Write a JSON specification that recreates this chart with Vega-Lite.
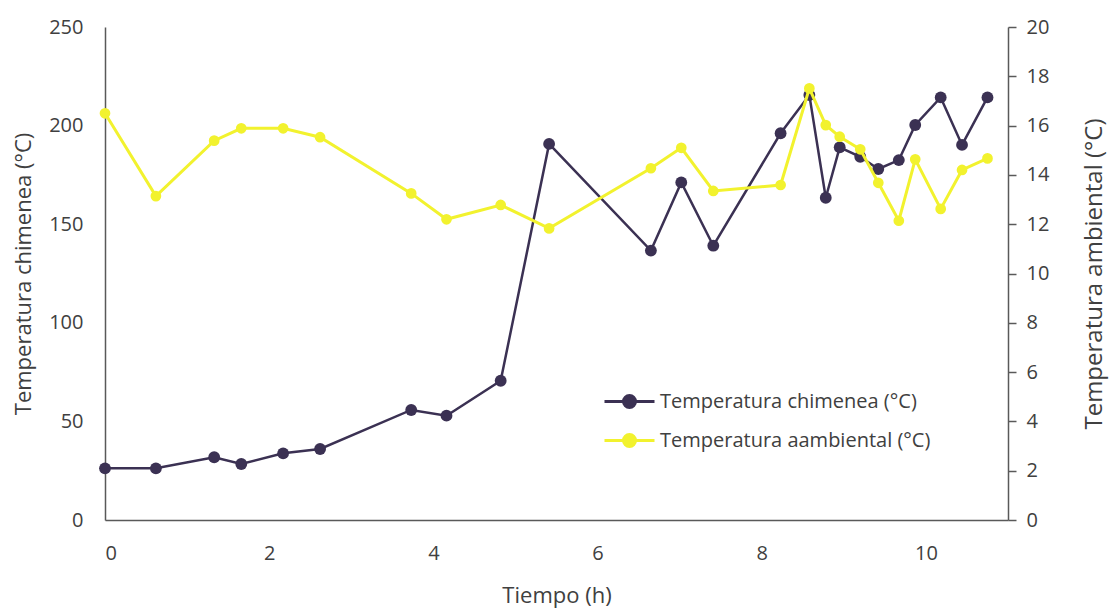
{
  "$schema": "https://vega.github.io/schema/vega-lite/v6.json",
  "width": 903,
  "height": 493,
  "autosize": {"type": "none"},
  "padding": {"left": 105, "top": 27, "right": 102, "bottom": 90},
  "background": "white",
  "config": {
    "font": "Open Sans",
    "view": {"stroke": null},
    "axis": {
      "labelColor": "#404040",
      "titleColor": "#404040",
      "labelFontSize": 20,
      "titleFontSize": 22,
      "titleFontWeight": "normal",
      "domainColor": "#595959",
      "domainWidth": 1.5,
      "tickColor": "#595959",
      "tickWidth": 1.5,
      "grid": false
    }
  },
  "data": {
    "values": [
      {"t": 0, "chim": 26.2, "amb": 16.5},
      {"t": 0.62, "chim": 26.2, "amb": 13.14},
      {"t": 1.33, "chim": 31.8, "amb": 15.39},
      {"t": 1.66, "chim": 28.4, "amb": 15.89},
      {"t": 2.17, "chim": 33.8, "amb": 15.89},
      {"t": 2.62, "chim": 36, "amb": 15.53},
      {"t": 3.73, "chim": 55.8, "amb": 13.25},
      {"t": 4.16, "chim": 52.9, "amb": 12.2},
      {"t": 4.82, "chim": 70.6, "amb": 12.78},
      {"t": 5.41, "chim": 190.7, "amb": 11.83},
      {"t": 6.65, "chim": 136.6, "amb": 14.27},
      {"t": 7.02, "chim": 171.2, "amb": 15.1},
      {"t": 7.41, "chim": 139.1, "amb": 13.35},
      {"t": 8.23, "chim": 196.1, "amb": 13.59},
      {"t": 8.58, "chim": 215.5, "amb": 17.51},
      {"t": 8.78, "chim": 163.4, "amb": 16.02},
      {"t": 8.95, "chim": 189, "amb": 15.55},
      {"t": 9.2, "chim": 184.2, "amb": 15.04},
      {"t": 9.42, "chim": 178, "amb": 13.68},
      {"t": 9.67, "chim": 182.5, "amb": 12.14},
      {"t": 9.87, "chim": 200.3, "amb": 14.63},
      {"t": 10.18, "chim": 214.3, "amb": 12.62},
      {"t": 10.44, "chim": 190.2, "amb": 14.2},
      {"t": 10.75, "chim": 214.3, "amb": 14.67}
    ]
  },
  "encoding": {
    "x": {
      "field": "t",
      "type": "quantitative",
      "scale": {"domain": [0, 11], "nice": false},
      "axis": {
        "title": "Tiempo (h)",
        "values": [0, 2, 4, 6, 8, 10],
        "ticks": false,
        "labelPadding": 23,
        "titlePadding": 22
      }
    },
    "color": {
      "type": "nominal",
      "scale": {
        "domain": ["Temperatura chimenea (°C)", "Temperatura aambiental (°C)"],
        "range": ["#3b3153", "#f2f22e"]
      },
      "legend": {
        "title": null,
        "orient": "none",
        "legendX": 508,
        "legendY": 358,
        "symbolType": "M-1.667,0H1.667M-0.4,0A0.4,0.4,0,1,0,0.4,0A0.4,0.4,0,1,0,-0.4,0Z",
        "symbolSize": 900,
        "symbolStrokeWidth": 3,
        "labelOffset": 14,
        "labelFontSize": 20,
        "labelColor": "#404040",
        "rowPadding": 10,
        "labelLimit": 400
      }
    }
  },
  "layer": [
    {
      "mark": {"type": "line", "strokeWidth": 2.5, "point": {"filled": true, "size": 140, "opacity": 1}},
      "encoding": {
        "y": {
          "field": "chim",
          "type": "quantitative",
          "scale": {"domain": [0, 250], "nice": false},
          "axis": {
            "title": "Temperatura chimenea (°C)",
            "values": [0, 50, 100, 150, 200, 250],
            "ticks": false,
            "labelPadding": 22,
            "titlePadding": 13
          }
        },
        "color": {"datum": "Temperatura chimenea (°C)"}
      }
    },
    {
      "mark": {"type": "line", "strokeWidth": 3, "point": {"filled": true, "size": 115, "opacity": 1}},
      "encoding": {
        "y": {
          "field": "amb",
          "type": "quantitative",
          "scale": {"domain": [0, 20], "nice": false},
          "axis": {
            "orient": "right",
            "title": "Temperatura ambiental (°C)",
            "titleAngle": 270,
            "titleFontSize": 24,
            "values": [0, 2, 4, 6, 8, 10, 12, 14, 16, 18, 20],
            "ticks": true,
            "tickSize": 8,
            "labelPadding": 10,
            "titlePadding": 58
          }
        },
        "color": {"datum": "Temperatura aambiental (°C)"}
      }
    }
  ],
  "resolve": {"scale": {"y": "independent"}}
}
